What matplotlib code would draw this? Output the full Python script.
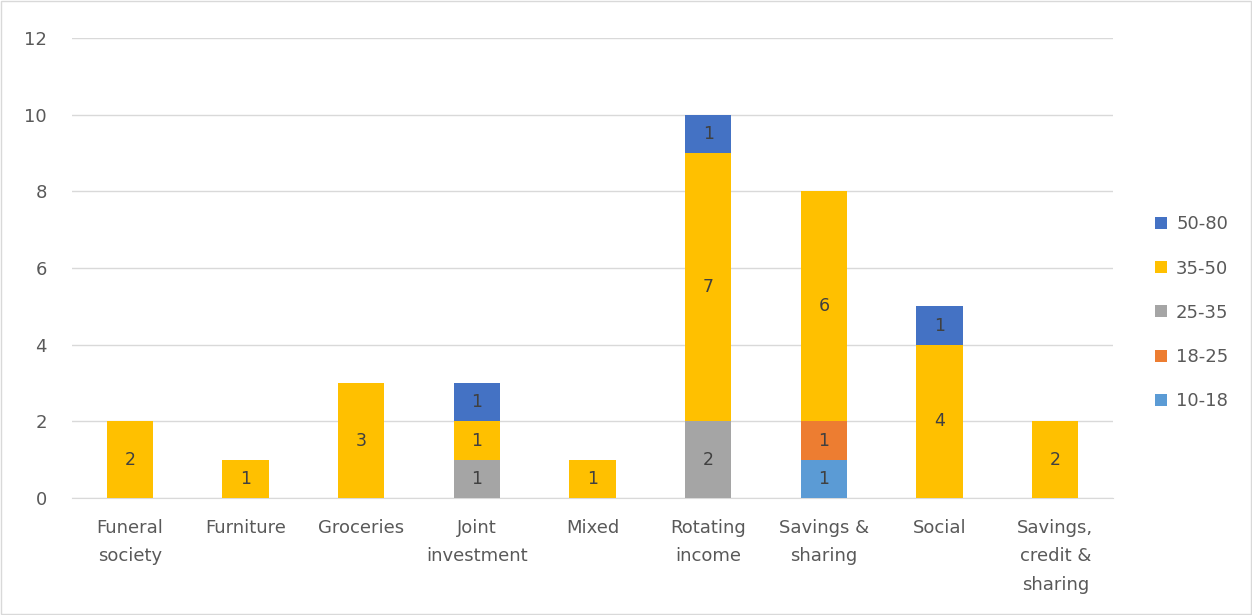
import matplotlib.pyplot as plt
import numpy as np

categories = ['Funeral\nsociety', 'Furniture', 'Groceries', 'Joint\ninvestment', 'Mixed',
              'Rotating\nincome', 'Savings &\nsharing', 'Social', 'Savings,\ncredit &\nsharing']
age_groups = ['10-18', '18-25', '25-35', '35-50', '50-80']
v_10_18 = [0, 0, 0, 0, 0, 0, 1, 0, 0]
v_18_25 = [0, 0, 0, 0, 0, 0, 1, 0, 0]
v_25_35 = [0, 0, 0, 1, 0, 2, 0, 0, 0]
v_35_50 = [2, 1, 3, 1, 1, 7, 6, 4, 2]
v_50_80 = [0, 0, 0, 1, 0, 1, 0, 1, 0]
series = [v_10_18, v_18_25, v_25_35, v_35_50, v_50_80]
colors = ['#5B9BD5', '#ED7D31', '#A5A5A5', '#FFC000', '#4472C4']

fig = plt.figure(figsize=(12.52, 6.15), dpi=100)
ax = fig.add_axes([0.0575, 0.19, 0.8315, 0.748])

x = np.arange(len(categories))
bottom = np.zeros(len(categories))
handles = []
for name, vals, c in zip(age_groups, series, colors):
    vals = np.array(vals, dtype=float)
    bars = ax.bar(x, vals, 0.4, bottom=bottom, color=c, label=name, zorder=3)
    handles.append(bars)
    for xi, v, b in zip(x, vals, bottom):
        if v > 0:
            ax.text(xi, b + v / 2, f'{int(v)}', ha='center', va='center',
                    fontsize=12.5, color='#404040', zorder=4)
    bottom += vals

ax.set_ylim(0, 12)
ax.set_yticks(range(0, 13, 2))
ax.set_xlim(-0.5, len(categories) - 0.5)
ax.set_xticks(x)
ax.set_xticklabels(categories, linespacing=1.75, va='top')
ax.grid(axis='y', color='#D9D9D9', linewidth=1, zorder=0)
for s in ['top', 'right', 'left']:
    ax.spines[s].set_visible(False)
ax.spines['bottom'].set_color('#D9D9D9')
ax.tick_params(axis='both', length=0, labelsize=13, colors='#595959')
ax.tick_params(axis='x', pad=15)
ax.tick_params(axis='y', pad=18)

leg = ax.legend(handles[::-1], age_groups[::-1], loc='center left', bbox_to_anchor=(1.025, 0.403),
                frameon=False, fontsize=13, labelspacing=1.45, handlelength=0.65,
                handleheight=0.65, handletextpad=0.5)
for t in leg.get_texts():
    t.set_color('#595959')

fig.patches.append(plt.Rectangle((0.001, 0.001), 0.998, 0.997, transform=fig.transFigure,
                                 fill=False, edgecolor='#D9D9D9', linewidth=1))

fig.savefig('out.png', dpi=100)
